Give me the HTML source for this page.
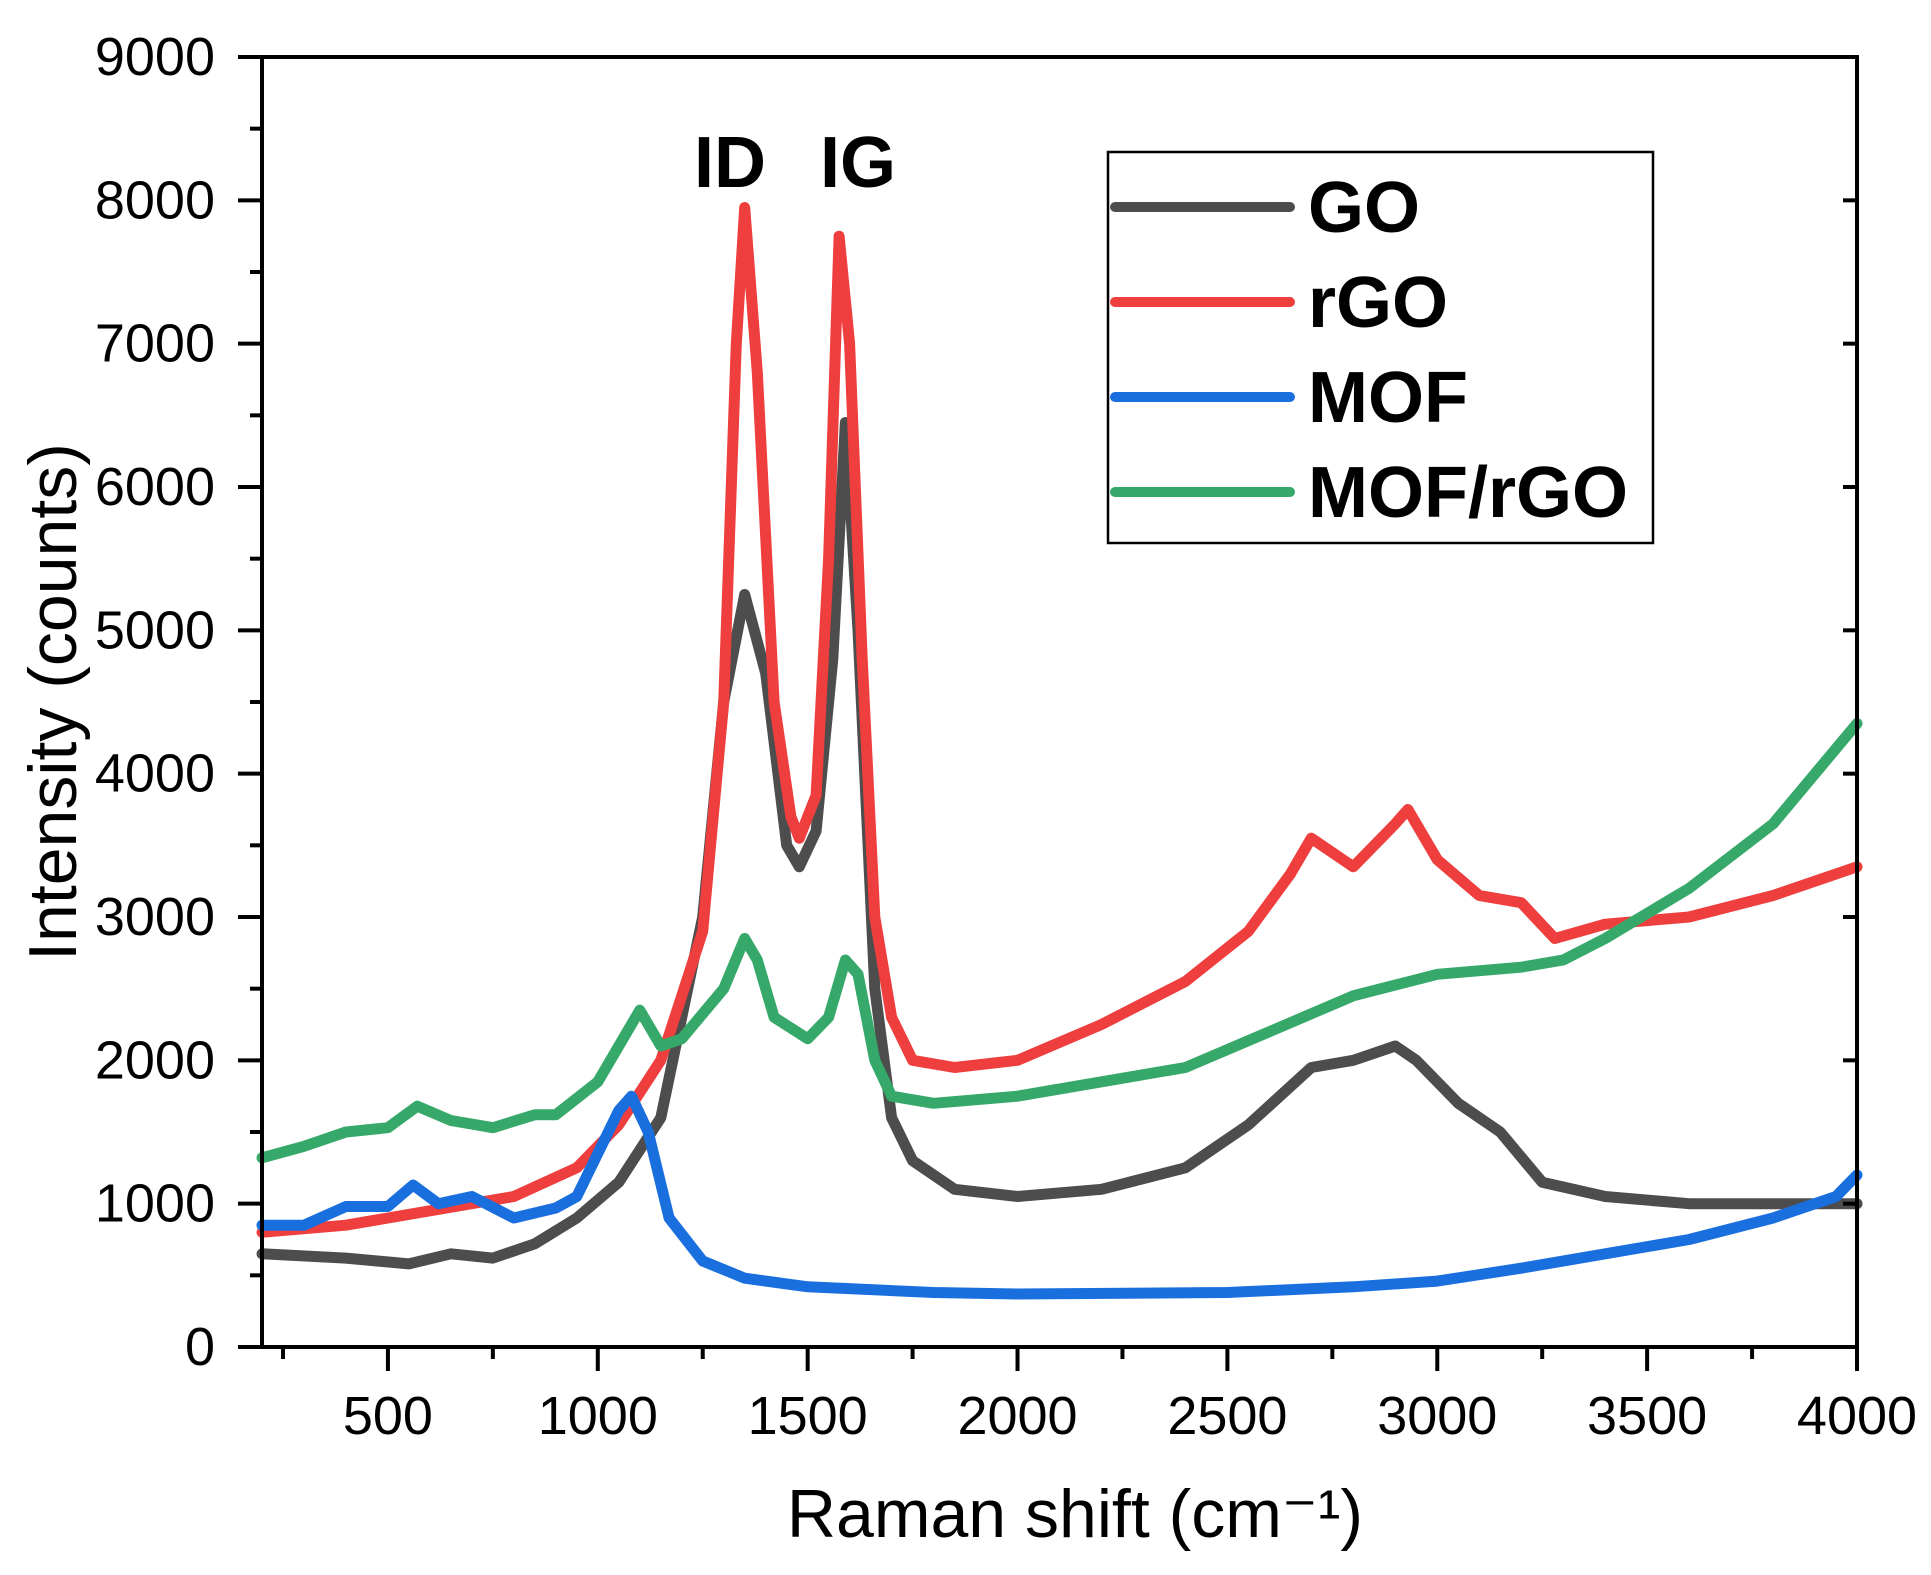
<!DOCTYPE html>
<html><head><meta charset="utf-8"><style>
html,body{margin:0;padding:0;background:#fff;}
svg{display:block;font-family:"Liberation Sans",Arial,sans-serif;}
</style></head><body>
<svg id="chart" width="1931" height="1575" viewBox="0 0 1931 1575" xmlns="http://www.w3.org/2000/svg">
<g id="series"></g>
<g id="axes"></g>
<text x="730" y="187" font-size="72" font-weight="bold" text-anchor="middle">ID</text>
<text x="858" y="187" font-size="72" font-weight="bold" text-anchor="middle">IG</text>
<text x="1075" y="1537" font-size="68" text-anchor="middle">Raman shift (cm⁻¹)</text>
<text transform="translate(76,702) rotate(-90)" font-size="68" text-anchor="middle">Intensity (counts)</text>
<g id="legend">
<rect x="1108" y="152" width="545" height="391" fill="#fff" stroke="#000" stroke-width="2.5"/>
</g>
</svg>
<script>
const goX=[200,400,550,650,750,850,950,1050,1150,1250,1300,1350,1400,1450,1480,1520,1560,1590,1620,1660,1700,1750,1850,2000,2200,2400,2550,2700,2800,2900,2950,3050,3150,3250,3400,3600,3800,4000];
const goY=[650,620,580,650,620,720,900,1150,1600,3000,4500,5250,4700,3500,3350,3600,4800,6450,5000,2500,1600,1300,1100,1050,1100,1250,1550,1950,2000,2100,2000,1700,1500,1150,1050,1000,1000,1000];
const rgoX=[200,400,600,800,950,1050,1150,1250,1300,1330,1350,1380,1420,1460,1480,1520,1550,1575,1600,1630,1660,1700,1750,1850,2000,2200,2400,2550,2650,2700,2800,2900,2930,3000,3100,3200,3280,3400,3600,3800,4000];
const rgoY=[800,850,950,1050,1250,1550,2000,2900,4500,7000,7950,6800,4500,3700,3550,3850,5500,7750,7000,4800,3000,2300,2000,1950,2000,2250,2550,2900,3300,3550,3350,3650,3750,3400,3150,3100,2850,2950,3000,3150,3350];
const mofX=[200,300,400,500,560,620,700,800,900,950,1000,1050,1080,1120,1170,1250,1350,1500,1800,2000,2500,2800,3000,3200,3400,3600,3800,3950,4000];
const mofY=[850,850,980,980,1130,1000,1050,900,970,1050,1350,1650,1750,1500,900,600,480,420,380,370,380,420,460,550,650,750,900,1050,1200];
const mrX=[200,300,400,500,570,650,750,850,900,1000,1060,1100,1150,1200,1300,1350,1380,1420,1500,1550,1590,1620,1660,1700,1800,2000,2200,2400,2600,2800,3000,3200,3300,3400,3600,3800,4000];
const mrY=[1320,1400,1500,1530,1680,1580,1530,1620,1620,1850,2150,2350,2100,2150,2500,2850,2700,2300,2150,2300,2700,2600,2000,1750,1700,1750,1850,1950,2200,2450,2600,2650,2700,2850,3200,3650,4350];
const seriesNames=["GO","rGO","MOF","MOF/rGO"];
const yTickLabels=["0","1000","2000","3000","4000","5000","6000","7000","8000","9000"];
const xTickLabels=["500","1000","1500","2000","2500","3000","3500","4000"];

const L=262,R=1857,T=57,B=1347,XMIN=200,XMAX=4000,YMIN=0,YMAX=9000;
function sx(v){return L+(v-XMIN)/(XMAX-XMIN)*(R-L);}
function sy(v){return B-(v-YMIN)/(YMAX-YMIN)*(B-T);}
const NS="http://www.w3.org/2000/svg";
function mk(tag,attrs,parent){const e=document.createElementNS(NS,tag);for(const k in attrs)e.setAttribute(k,attrs[k]);parent.appendChild(e);return e;}
const colors=["#4d4d4d","#ef3e3e","#1a6fdf","#36a96a"];
const sg=document.getElementById('series');
const data=[[goX,goY],[rgoX,rgoY],[mofX,mofY],[mrX,mrY]];
const snames=['series-go','series-rgo','series-mof','series-mof-rgo'];
data.forEach((d,i)=>{
  const pts=d[0].map((x,j)=>sx(x).toFixed(1)+','+sy(d[1][j]).toFixed(1)).join(' ');
  const p=mk('polyline',{points:pts,fill:'none',stroke:colors[i],'stroke-width':11,'stroke-linejoin':'round','stroke-linecap':'round'},sg);
  
  
});
const ag=document.getElementById('axes');
const frame=mk('rect',{x:L,y:T,width:R-L,height:B-T,fill:'none',stroke:'#000','stroke-width':4},ag);


yTickLabels.forEach((lab,i)=>{
  const v=+lab,y=sy(v);
  const t=mk('line',{x1:L-24,x2:L,y1:y,y2:y,stroke:'#000','stroke-width':4},ag);
  
  
  const rt=mk('line',{x1:R-14,x2:R,y1:y,y2:y,stroke:'#000','stroke-width':4},ag);
  
  
  const tx=mk('text',{x:L-47,y:y+18,'font-size':54,'text-anchor':'end'},ag);
  tx.textContent=lab;
  
  
  if(v<YMAX){
    const m=mk('line',{x1:L-12,x2:L,y1:sy(v+500),y2:sy(v+500),stroke:'#000','stroke-width':4},ag);
    
    
  }
});
for(let v=250;v<=XMAX;v+=250){
  const major=v%500===0;
  const x=sx(v);
  const t=mk('line',{x1:x,x2:x,y1:B,y2:B+(major?24:12),stroke:'#000','stroke-width':4},ag);
  
  
}
xTickLabels.forEach(lab=>{
  const tx=mk('text',{x:sx(+lab),y:1434,'font-size':54,'text-anchor':'middle'},ag);
  tx.textContent=lab;
  
  
});
const lg=document.getElementById('legend');
const ly=[207,302,397,492];
seriesNames.forEach((n,i)=>{
  const l=mk('line',{x1:1115,x2:1290,y1:ly[i],y2:ly[i],stroke:colors[i],'stroke-width':10,'stroke-linecap':'round'},lg);
  
  
  const tx=mk('text',{x:1308,y:ly[i]+25,'font-size':72,'font-weight':'bold'},lg);
  tx.textContent=n;
  
  
});
</script>
</body></html>
